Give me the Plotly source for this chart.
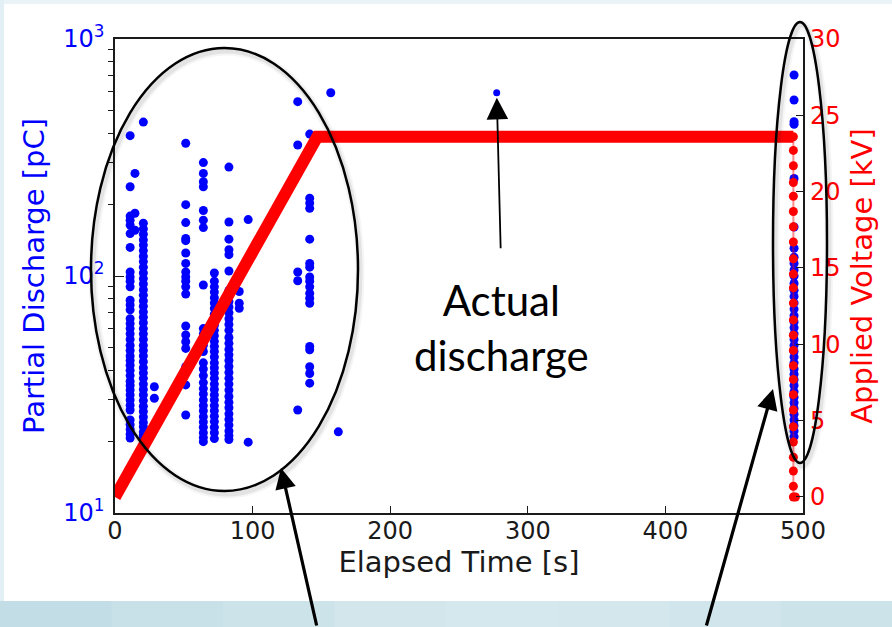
import plotly.graph_objects as go

# ---------------------------------------------------------------- data
# Partial-discharge pulses [pC], grouped by the elapsed time [s] they were logged at
pd_011 = [391, 238, 179, 172, 164, 151, 132, 104, 99, 95, 90, 79, 75.5, 72,
          66, 63, 60, 57, 54, 51, 48.5, 46, 44, 42, 40, 38, 36, 34.5, 33,
          31.5, 30, 28.5, 27.2, 24.7, 23.6, 22.5, 21.5, 20.7]
pd_014 = [271, 184, 156]
pd_021 = [446, 167, 158, 150, 142, 135, 128, 121, 115, 109, 103, 97.5, 92.5,
          87.5, 83, 78.5, 74.5, 70.5, 67, 63.5, 60, 57, 54, 51, 48.5, 46,
          43.5, 41, 39, 37, 35, 33.2, 31.5, 29.8, 28.2, 26.8, 25.4, 24.1,
          23.1, 22.0, 21.3, 20.7]
pd_029 = [34.1, 30.5]
pd_051 = [363, 200, 168, 144, 141, 125, 113, 104, 99, 95, 90, 84, 61.5,
          56.4, 52.8, 49.5, 41.4, 34.7, 25.9]
pd_064 = [301, 271, 250, 238, 189, 172, 160, 91.6, 60, 57, 54, 51, 48, 43,
          40.5, 38, 35.5, 33.5, 31.8, 30, 28.4, 27, 25.5, 24.2, 23, 21.8,
          20.8, 20]
pd_072 = [103, 95, 90, 85.5, 81, 77, 73, 69, 65.5, 62, 59, 56, 53, 50.5, 48,
          45.5, 43, 41, 39, 37, 35, 33.2, 31.5, 30, 28.4, 27, 25.6, 24.3, 23,
          21.8, 20.6]
pd_083 = [288, 169, 143, 129, 123, 105, 87, 82, 78, 74, 70, 66, 62.5, 59, 55,
          52, 49, 46.5, 44, 41.5, 39.2, 37, 35, 33, 31, 29.3, 27.8, 26.2,
          24.8, 23.5, 22.2, 21.2, 20.4]
pd_090 = [86, 76.7, 73.1]
pd_097 = [173, 19.9]
pd_133 = [544, 357, 104, 95.5, 27.2]
pd_141 = [397, 213, 203, 193, 143, 113, 109, 99, 95, 90, 84.5, 80.6, 76.7,
          50.4, 48.8, 41.4, 38.8, 35.3]
pd_157 = [593]
pd_162 = [22]
pd_493 = [705, 553, 448, 437, 258, 161, 131, 120, 113, 106, 100, 93, 87, 82,
          77, 72.5, 68, 64, 60.5, 57, 54, 51, 48, 45.5, 43, 40.5, 38.5, 36.5,
          34.5, 32.5, 30.8, 29.2, 27.6, 26.1, 24.7, 23.4, 22.2, 21]

pd_groups = [(11, pd_011), (14.5, pd_014), (20.6, pd_021), (28.6, pd_029),
             (51.4, pd_051), (64.2, pd_064), (72.2, pd_072), (82.8, pd_083),
             (90.3, pd_090), (96.8, pd_097), (132.8, pd_133), (141.5, pd_141),
             (156.8, pd_157), (162.3, pd_162), (493.5, pd_493)]

# the single pulse singled out with a label
actual_time = [277.4]
actual_pc = [593]

# applied voltage [kV]: ramp, hold, then stepped down at the end of the run
ramp_time = [0, 147, 493]
ramp_kv = [0.0, 23.6, 23.6]
step_time = [493.0, 493.0, 493.0, 493.0, 493.0, 493.0, 493.0, 493.0, 493.0,
             493.0, 493.0, 493.0, 493.0, 493.0, 493.0, 493.0, 493.0, 493.0,
             493.0, 493.0, 493.0, 493.0, 493.0, 493.0, 493.0, 494.5]
step_kv = [23.6, 22.7, 21.7, 20.6, 19.7, 18.7, 17.7, 16.7, 15.6, 14.6, 13.7,
           12.7, 11.6, 10.6, 9.6, 8.6, 7.7, 6.7, 5.7, 4.6, 3.6, 2.6, 1.7, 0.7,
           0.0, 0.0]

x_ticks = [0, 100, 200, 300, 400, 500]
pd_ticks = [10, 100, 1000]
pd_ticktext = ["10<sup>1</sup>", "10<sup>2</sup>", "10<sup>3</sup>"]
pd_minor = [20, 30, 40, 50, 60, 70, 80, 90, 200, 300, 400, 500, 600, 700, 800, 900]
kv_ticks = [0, 5, 10, 15, 20, 25, 30]

# ---------------------------------------------------------------- layout geometry
W, H = 892, 627
ML, MR, MT, MB = 115, 89, 39, 114
PW, PH = W - ML - MR, H - MT - MB


def px_x(x):
    return (x - ML) / PW


def px_y(y):
    return (H - MB - y) / PH


FONT = "DejaVu Sans"
BLUE = "#0000ff"
RED = "#ff0000"
INK = "#1a1a1a"
TICK_SIZE = 24
TITLE_SIZE = 29

# ---------------------------------------------------------------- traces
pd_x, pd_y = [], []
for t, vals in pd_groups:
    pd_x += [t] * len(vals)
    pd_y += vals

fig = go.Figure()
fig.add_trace(go.Scatter(x=pd_x, y=pd_y, mode="markers", yaxis="y",
                         marker=dict(color=BLUE, size=9, line=dict(width=0)),
                         hoverinfo="skip"))
fig.add_trace(go.Scatter(x=actual_time, y=actual_pc, mode="markers", yaxis="y",
                         marker=dict(color=BLUE, size=7, line=dict(width=0)),
                         hoverinfo="skip"))
fig.add_trace(go.Scatter(x=ramp_time, y=ramp_kv, mode="lines", yaxis="y2",
                         line=dict(color=RED, width=12), hoverinfo="skip"))
fig.add_trace(go.Scatter(x=step_time, y=step_kv, mode="lines+markers", yaxis="y2",
                         line=dict(color="rgba(255,0,0,0.45)", width=2),
                         marker=dict(color=RED, size=9, line=dict(width=0)),
                         hoverinfo="skip"))

# ---------------------------------------------------------------- slide backdrop
shapes = []
# light frame strips and the coloured band along the bottom of the slide
shapes.append(dict(type="rect", xref="paper", yref="paper", layer="below",
                   x0=px_x(0), x1=px_x(W), y0=px_y(0), y1=px_y(4),
                   fillcolor="#eaf4f8", line=dict(width=0)))
shapes.append(dict(type="rect", xref="paper", yref="paper", layer="below",
                   x0=px_x(0), x1=px_x(4), y0=px_y(0), y1=px_y(601),
                   fillcolor="#e2eff4", line=dict(width=0)))
band_cols = ["#c3dde6", "#c8e0e8", "#cde3ea", "#d2e6ec", "#d5e8ee", "#d4e7ed",
             "#d1e5ec", "#cde3ea"]
n_band = len(band_cols)
for i, c in enumerate(band_cols):
    shapes.append(dict(type="rect", xref="paper", yref="paper", layer="below",
                       x0=px_x(W * i / n_band), x1=px_x(W * (i + 1) / n_band + 1),
                       y0=px_y(H), y1=px_y(601), fillcolor=c, line=dict(width=0)))

# callout ellipses (with a soft shadow)
ellipses = [(91, 48, 358, 491), (773, 22, 827, 463)]
for x0, y0, x1, y1 in ellipses:
    for w, a in [(9, 0.04), (5, 0.07)]:
        shapes.append(dict(type="circle", xref="paper", yref="paper",
                           x0=px_x(x0 + 2), x1=px_x(x1 + 2),
                           y0=px_y(y1 + 3), y1=px_y(y0 + 3),
                           line=dict(color=f"rgba(0,0,0,{a})", width=w)))
    shapes.append(dict(type="circle", xref="paper", yref="paper",
                       x0=px_x(x0), x1=px_x(x1), y0=px_y(y1), y1=px_y(y0),
                       line=dict(color="black", width=2.5)))

annotations = [
    # label + arrow pointing at the isolated pulse
    dict(x=actual_time[0], y=2.773, xref="x", yref="y", text="", showarrow=True,
         ax=4, ay=157, axref="pixel", ayref="pixel", standoff=5,
         arrowhead=2, arrowsize=2.4, arrowwidth=1.8, arrowcolor="black"),
    dict(x=px_x(501), y=px_y(327), xref="paper", yref="paper",
         text="Actual<br>discharge", showarrow=False,
         font=dict(family="Lato", size=42, color="black"), align="center"),
    # arrows coming up from below the chart to the two ellipses
    dict(x=px_x(281), y=px_y(468), xref="paper", yref="paper", text="",
         showarrow=True, ax=36, ay=172, axref="pixel", ayref="pixel",
         arrowhead=2, arrowsize=1.3, arrowwidth=3.2, arrowcolor="black"),
    dict(x=px_x(773), y=px_y(389), xref="paper", yref="paper", text="",
         showarrow=True, ax=-67, ay=251, axref="pixel", ayref="pixel",
         arrowhead=2, arrowsize=1.3, arrowwidth=3.2, arrowcolor="black"),
]

fig.update_layout(
    width=W, height=H,
    margin=dict(l=ML, r=MR, t=MT, b=MB, autoexpand=False),
    paper_bgcolor="white", plot_bgcolor="white", showlegend=False,
    font=dict(family=FONT, size=TICK_SIZE, color=INK),
    shapes=shapes, annotations=annotations,
    xaxis=dict(range=[0, 500], tickvals=x_ticks, ticks="inside", ticklen=7,
               tickwidth=1.2, tickcolor=INK, showline=True, linecolor=INK,
               linewidth=1.6, mirror=True, showgrid=False, zeroline=False,
               ticklabelstandoff=-5,
               tickfont=dict(family=FONT, size=TICK_SIZE, color=INK),
               title=dict(text="Elapsed Time [s]", standoff=6,
                          font=dict(family=FONT, size=TITLE_SIZE, color=INK))),
    yaxis=dict(type="log", range=[1, 3], tickvals=pd_ticks, ticktext=pd_ticktext,
               ticks="inside", ticklen=9, tickwidth=1.2, tickcolor=INK,
               minor=dict(tickvals=pd_minor, ticks="outside", ticklen=5,
                          tickwidth=1, tickcolor=INK, showgrid=False),
               showline=True, linecolor=INK, linewidth=1.6, mirror=True,
               showgrid=False, zeroline=False, ticklabelstandoff=4,
               tickfont=dict(family=FONT, size=TICK_SIZE, color=BLUE),
               title=dict(text="Partial Discharge [pC]", standoff=10,
                          font=dict(family=FONT, size=TITLE_SIZE, color=BLUE))),
    yaxis2=dict(overlaying="y", side="right", range=[-1.05, 30],
                tickvals=kv_ticks, ticks="inside", ticklen=7, tickwidth=1.2,
                tickcolor=INK, showline=False, showgrid=False, zeroline=False,
                ticklabelstandoff=6,
                tickfont=dict(family=FONT, size=TICK_SIZE, color=RED),
                title=dict(text="Applied Voltage [kV]", standoff=12,
                           font=dict(family=FONT, size=TITLE_SIZE, color=RED))),
)

fig.write_html("out.html")
